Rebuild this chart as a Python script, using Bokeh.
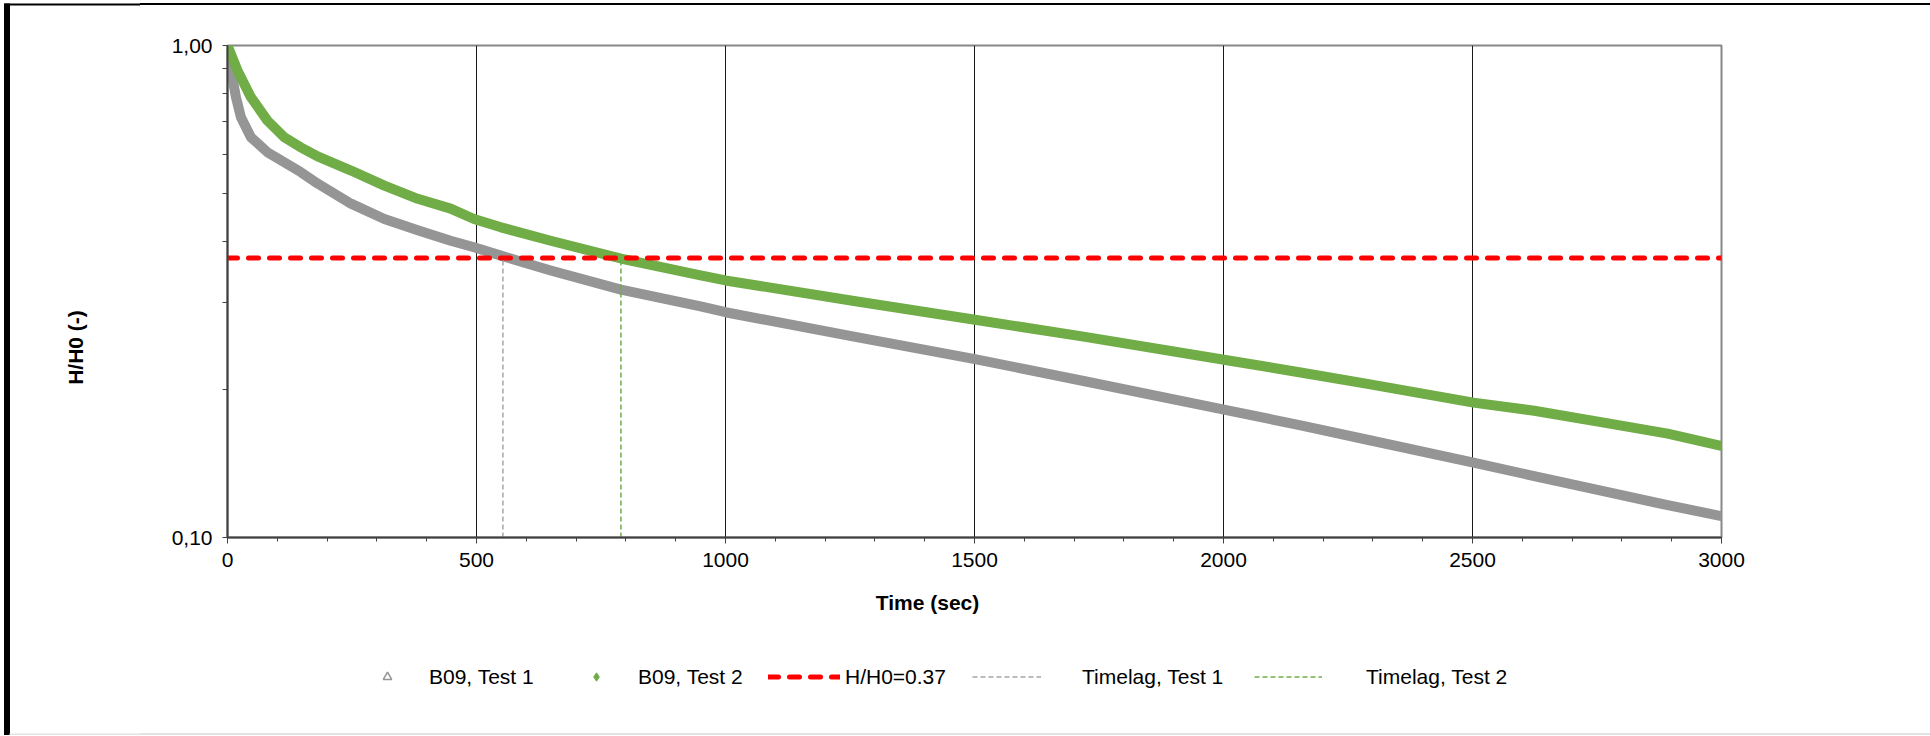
import math
from bokeh.plotting import figure
from bokeh.layouts import row, column
from bokeh.models import (Range1d, FixedTicker, CustomJSTickFormatter, Label, Legend,
                          LegendItem)
from bokeh.embed import file_html
from bokeh.resources import INLINE

# ---------------- data ----------------
time_test1 = [0, 7, 17, 27, 47, 80, 114, 147, 181, 248, 315, 382, 448, 495, 549, 649,
              790, 950, 1000, 1258, 1501, 1719, 2001, 2155, 2289, 2502, 2624, 2758, 2892, 3000]
hh0_test1 = [1.0, 0.89, 0.785, 0.715, 0.651, 0.607, 0.579, 0.553, 0.524, 0.477, 0.444, 0.421,
             0.401, 0.389, 0.374, 0.349, 0.319, 0.295, 0.287, 0.256, 0.2305, 0.208, 0.182,
             0.169, 0.158, 0.142, 0.1333, 0.1245, 0.1163, 0.1105]

time_test2 = [0, 20, 47, 80, 114, 147, 181, 248, 315, 382, 448, 495, 549, 649, 790, 950,
              1000, 1258, 1501, 1719, 2001, 2155, 2289, 2502, 2624, 2758, 2892, 3000]
hh0_test2 = [1.0, 0.89, 0.785, 0.704, 0.651, 0.621, 0.595, 0.557, 0.519, 0.488, 0.466, 0.444,
             0.427, 0.401, 0.369, 0.341, 0.333, 0.3025, 0.277, 0.256, 0.2298, 0.2165, 0.2053,
             0.188, 0.181, 0.1716, 0.1626, 0.1535]

reference_level = 0.37
timelag_test1 = 553
timelag_test2 = 790

x_ticks = [0, 500, 1000, 1500, 2000, 2500, 3000]
x_minor_ticks = list(range(0, 3001, 100))
y_ticks = [0.1, 1.0]
y_minor_ticks = [0.2, 0.3, 0.4, 0.5, 0.6, 0.7, 0.8, 0.9]

series_names = ["B09, Test 1", "B09, Test 2", "H/H0=0.37", "Timelag, Test 1", "Timelag, Test 2"]
x_title = "Time (sec)"
y_title = "H/H0 (-)"

# ---------------- styling ----------------
FONT = "Liberation Sans"
FS = "21px"
GRAY = "#959595"
GRAY_LAG = "#A6A6A6"
GREEN = "#70AD47"
RED = "#FF0000"
NAN = float("nan")

LEFT_W = 140
MAIN_W = 1930 - LEFT_W
COL_TOP = 5            # 3px margin + 2px black border above the column
FRAME_L, FRAME_R, FRAME_T, FRAME_B = 227, 1721, 45, 537
MAIN_H = 580 - COL_TOP
BOTTOM_H = 733 - 580


def blank(width, height, x_end=None):
    f = figure(width=width, height=height,
               x_range=Range1d(0, x_end if x_end is not None else width),
               y_range=Range1d(height, 0),
               output_backend="svg", toolbar_location=None, min_border=0,
               x_axis_location=None, y_axis_location=None, title=None)
    f.grid.visible = False
    f.outline_line_color = None
    f.background_fill_color = "white"
    f.border_fill_color = "white"
    return f


# ---------------- main chart ----------------
p = figure(width=MAIN_W, height=MAIN_H,
           x_range=Range1d(x_ticks[0], x_ticks[-1]),
           y_range=Range1d(y_ticks[0], y_ticks[-1]),
           y_axis_type="log", output_backend="svg", toolbar_location=None, title=None,
           min_border_left=FRAME_L - LEFT_W, min_border_right=1930 - FRAME_R,
           min_border_top=FRAME_T - COL_TOP, min_border_bottom=COL_TOP + MAIN_H - FRAME_B)

p.background_fill_color = "white"
p.border_fill_color = "white"
p.outline_line_color = "#878787"
p.outline_line_width = 2

p.xaxis.ticker = FixedTicker(ticks=x_ticks, minor_ticks=x_minor_ticks)
p.yaxis.ticker = FixedTicker(ticks=y_ticks, minor_ticks=y_minor_ticks)
p.yaxis.formatter = CustomJSTickFormatter(code="return tick.toFixed(2).replace('.', ',');")
for ax in (p.xaxis[0], p.yaxis[0]):
    ax.axis_line_color = "#404040"
    ax.axis_line_width = 2
    ax.major_tick_line_color = "#404040"
    ax.minor_tick_line_color = "#404040"
    ax.major_tick_in = 0
    ax.minor_tick_in = 0
    ax.major_label_text_font = FONT
    ax.major_label_text_font_size = FS
    ax.major_label_text_color = "#000000"
p.xaxis.major_tick_out = 6
p.xaxis.minor_tick_out = 4
p.yaxis.major_tick_out = 5
p.yaxis.minor_tick_out = 5
p.xaxis.major_label_standoff = 9
p.yaxis.major_label_standoff = 10

p.xgrid.ticker = FixedTicker(ticks=x_ticks)
p.xgrid.grid_line_color = "#1a1a1a"
p.xgrid.grid_line_width = 1
p.ygrid.visible = False

p.line(time_test1, hh0_test1, line_color=GRAY, line_width=10, line_join="round", line_cap="round")
p.line(time_test2, hh0_test2, line_color=GREEN, line_width=10, line_join="round", line_cap="round")
p.line([x_ticks[0], x_ticks[-1]], [reference_level, reference_level], line_color=RED,
       line_width=5, line_dash="10 11", line_cap="round")
p.line([timelag_test1, timelag_test1], [y_ticks[0], reference_level], line_color=GRAY_LAG,
       line_width=1.5, line_dash="5 3")
p.line([timelag_test2, timelag_test2], [y_ticks[0], reference_level], line_color=GREEN,
       line_width=1.5, line_dash="5 3")

# ---------------- left strip: page border + y title ----------------
left = blank(LEFT_W, 735)
left.quad(left=[3.5], right=[9.5], top=[3], bottom=[735], fill_color="#000000", line_color=None)
left.quad(left=[4], right=[LEFT_W], top=[3], bottom=[5], fill_color="#000000", line_color=None)
left.quad(left=[9], right=[LEFT_W], top=[733], bottom=[735], fill_color="#e3e3e3", line_color=None)
left.add_layout(Label(x=75, y=347, text=y_title, text_font=FONT, text_font_size=FS,
                      text_font_style="bold", text_align="center", text_baseline="middle",
                      angle=math.pi / 2, text_color="#000000"))

# ---------------- bottom strip: x title + legend ----------------
# (its frame is aligned with the main chart's frame by the column layout)
bottom = blank(MAIN_W, BOTTOM_H, x_end=FRAME_R - FRAME_L)
bottom.add_layout(Label(x=927 - FRAME_L, y=602 - 580, text=x_title, text_font=FONT,
                        text_font_size=FS, text_font_style="bold", text_align="center",
                        text_baseline="middle", text_color="#000000"))

lg1 = bottom.scatter([NAN], [NAN], marker="triangle", size=9, fill_color=None, line_color=GRAY,
                     line_width=1.5)
lg2 = bottom.scatter([NAN], [NAN], marker="diamond", size=11, fill_color=GREEN, line_color=GREEN)
lg3 = bottom.line([NAN, NAN], [NAN, NAN], line_color=RED, line_width=5, line_dash="10 11",
                  line_cap="round")
lg4 = bottom.line([NAN, NAN], [NAN, NAN], line_color=GRAY_LAG, line_width=1.5, line_dash="5 3")
lg5 = bottom.line([NAN, NAN], [NAN, NAN], line_color=GREEN, line_width=1.5, line_dash="5 3")

legend_y = BOTTOM_H - (678 - 580) - 10.5
legend_specs = [
    (lg1, series_names[0], 357, 60, 12),
    (lg2, series_names[1], 566, 60, 12),
    (lg3, series_names[2], 768, 72, 5),
    (lg4, series_names[3], 972, 69, 41),
    (lg5, series_names[4], 1254, 68, 44),
]
for rend, lab, gx, gw, so in legend_specs:
    bottom.add_layout(Legend(items=[LegendItem(label=lab, renderers=[rend])],
                             location=(gx - FRAME_L, legend_y),
                             orientation="horizontal", glyph_width=gw, glyph_height=21,
                             label_height=21, label_standoff=so, padding=0, margin=0, spacing=0,
                             border_line_color=None, background_fill_alpha=0,
                             label_text_font=FONT, label_text_font_size=FS,
                             label_text_color="#000000"))

right_col = column(p, bottom, styles={"border-top": "2px solid #000000",
                                      "border-bottom": "2px solid #e3e3e3",
                                      "margin-top": "3px"})
layout = row(left, right_col)
open("out.html", "w").write(file_html(layout, INLINE))
